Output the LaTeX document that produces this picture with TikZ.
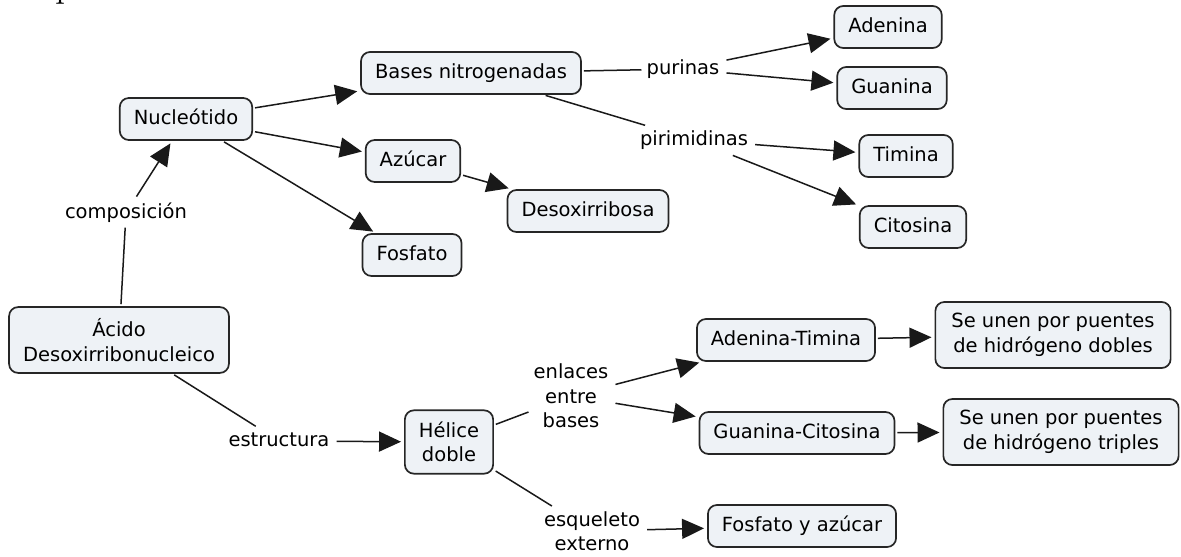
\documentclass[tikz,border=0pt]{standalone}
\usepackage{fontspec}
\setsansfont{DejaVu Sans}
\usetikzlibrary{arrows.meta}
\definecolor{boxfill}{RGB}{238,242,246}
\definecolor{boxline}{RGB}{38,38,38}
\definecolor{linkline}{RGB}{25,25,25}

\begin{document}
\begin{tikzpicture}[x=1pt,y=-1pt,
  txt/.style={font=\sffamily\fontsize{19.5}{24.5}\selectfont, align=center},
  concept/.style={txt, draw=boxline, line width=1.7pt, fill=boxfill,
    rounded corners=9pt, inner xsep=14pt, inner ysep=11.5pt},
  single/.style={text height=14.5pt, text depth=4.5pt},
  phrase/.style={txt, inner sep=5pt},
  link/.style={draw=linkline, line width=1.5pt, shorten <=2pt},
  arrow/.style={link, -{Triangle[length=22pt,width=20pt]}, shorten >=3pt},
]
\useasboundingbox (0,0) rectangle (1181,557);

% fragment of a heading glyph cut by the top edge
\begin{scope}
  \clip (0,0) rectangle (1181,557);
  \node[anchor=base west, inner sep=0pt, font=\fontsize{40}{40}\selectfont] (frag) at (55,-4) {p};
\end{scope}

% concepts
\node[concept, single] (nuc) at (186,119) {Nucleótido};
\node[concept, single] (bas) at (471,73) {Bases nitrogenadas};
\node[concept, single] (azu) at (413,161) {Azúcar};
\node[concept, single] (des) at (588,211) {Desoxirribosa};
\node[concept, single] (fos) at (412,255) {Fosfato};
\node[concept] (aci) at (119,340) {Ácido\\Desoxirribonucleico};
\node[concept, single] (ade) at (888,27) {Adenina};
\node[concept, single] (gua) at (892,88) {Guanina};
\node[concept, single] (tim) at (906,156) {Timina};
\node[concept, single] (cit) at (913,227) {Citosina};
\node[concept, single] (at) at (786,340) {Adenina-Timina};
\node[concept, single] (gc) at (797,433) {Guanina-Citosina};
\node[concept, inner xsep=16pt] (dob) at (1053,335) {Se unen por puentes\\de hidrógeno dobles};
\node[concept, inner xsep=16pt] (tri) at (1061,432) {Se unen por puentes\\de hidrógeno triples};
\node[concept] (hel) at (449,442) {Hélice\\doble};
\node[concept, single] (fya) at (802,526) {Fosfato y azúcar};

% linking phrases
\node[phrase, single] (comp) at (126,213) {composición};
\node[phrase, single] (pur) at (683,69) {purinas};
\node[phrase, single] (pir) at (694,140) {pirimidinas};
\node[phrase, single] (est) at (279,441) {estructura};
\node[phrase] (enl) at (571,396) {enlaces\\entre\\bases};
\node[phrase] (esq) at (592,531) {esqueleto\\externo};

% connectors
\draw[link] (aci) -- (comp);
\draw[arrow] (comp) -- (nuc);
\draw[arrow] (nuc) -- (bas);
\draw[arrow] (nuc) -- (azu);
\draw[arrow] (nuc) -- (fos);
\draw[arrow] (azu) -- (des);
\draw[link] (bas) -- (pur);
\draw[arrow] (pur) -- (ade);
\draw[arrow] (pur) -- (gua);
\draw[link] (bas) -- (pir);
\draw[arrow] (pir) -- (tim);
\draw[arrow] (pir) -- (cit);
\draw[link] (aci) -- (est);
\draw[arrow] (est) -- (hel);
\draw[link] (hel) -- (enl);
\draw[arrow] (enl) -- (at);
\draw[arrow] (enl) -- (gc);
\draw[link] (hel) -- (esq);
\draw[arrow] (esq) -- (fya);
\draw[arrow] (at) -- (dob);
\draw[arrow] (gc) -- (tri);
\end{tikzpicture}
\end{document}
